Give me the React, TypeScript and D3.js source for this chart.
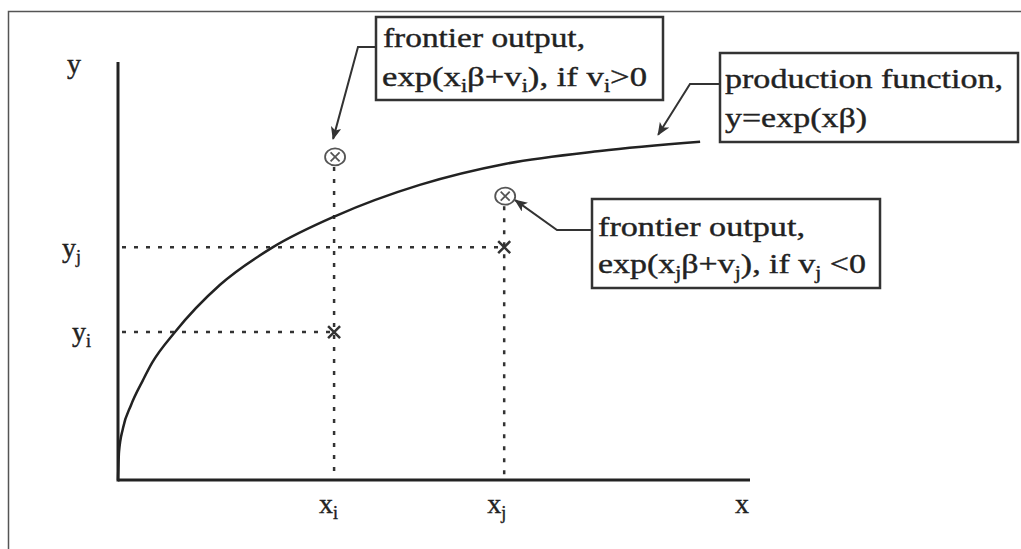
import React from 'react';
import * as d3 from 'd3';

const W = 1021;
const H = 549;

// production function y = exp(xβ) (axis units 0..10)
const curveX = [0, 0.016, 0.079, 0.206, 0.397, 0.54, 0.905, 1.62, 2.46, 3.46, 4.79, 6.14, 7.65, 9.24];
const curveY = [0, 0.67, 1.24, 1.79, 2.39, 2.8, 3.54, 4.67, 5.57, 6.32, 7.06, 7.56, 7.87, 8.09];

// two firms i and j
const firmNames = ['i', 'j'];
const firmX = [3.43, 6.13];
const observedY = [3.54, 5.57]; // observed output (x marks)
const frontierY = [7.73, 6.79]; // frontier output (circled x)

// annotation texts, _{..} marks a subscript
const noteI = ['frontier output,', 'exp(x_{i}β+v_{i}), if v_{i}>0'];
const noteF = ['production function,', 'y=exp(xβ)'];
const noteJ = ['frontier output,', 'exp(x_{j}β+v_{j}), if v_{j} <0'];

const FONT = '"Liberation Serif", "Times New Roman", serif';
const INK = '#222';

// split "a_{b}c" into tspans with subscripts
function rich(s: string) {
  const parts = s.split(/(_\{[^}]*\})/).filter((p) => p.length);
  let down = false;
  return parts.map((p, k) => {
    if (p.startsWith('_{')) {
      down = true;
      return (
        <tspan key={k} fontSize={18} dy={6}>
          {p.slice(2, -1)}
        </tspan>
      );
    }
    const dy = down ? -6 : undefined;
    down = false;
    return (
      <tspan key={k} dy={dy}>
        {p}
      </tspan>
    );
  });
}

export default function App() {
  const x = d3.scaleLinear().domain([0, 10]).range([118, 748]);
  const y = d3.scaleLinear().domain([0, 10]).range([480, 62]);

  const pts: [number, number][] = curveX.map((v, i) => [v, curveY[i]]);
  const line = d3
    .line<[number, number]>()
    .x((d) => x(d[0]))
    .y((d) => y(d[1]))
    .curve(d3.curveMonotoneX);

  const [x0, x1] = x.range();
  const [y0, y1] = y.range();

  const fi = { cx: x(firmX[0]), cy: y(frontierY[0]) };
  const fj = { cx: x(firmX[1]), cy: y(frontierY[1]) };
  const last = pts[pts.length - 1];
  const curveEnd = { px: x(last[0]), py: y(last[1]) };

  // annotation connectors: box edge -> elbow -> arrow tip
  const connectors = [
    `M376,47 L358,47 L${fi.cx - 1},${fi.cy - 18}`,
    `M720,84 L690,84 L${curveEnd.px - 42},${curveEnd.py - 7}`,
    `M592,230 L557,230 L${fj.cx + 11},${fj.cy + 4}`,
  ];

  const cross = (cx: number, cy: number, s: number) =>
    `M${cx - s},${cy - s} L${cx + s},${cy + s} M${cx + s},${cy - s} L${cx - s},${cy + s}`;

  return (
    <svg
      width={W}
      height={H}
      style={{ position: 'fixed', left: 0, top: 0, background: '#fff' }}
      fontFamily={FONT}
    >
      <defs>
        <marker
          id="arr"
          viewBox="0 0 12 10"
          refX={11}
          refY={5}
          markerWidth={13}
          markerHeight={11}
          markerUnits="userSpaceOnUse"
          orient="auto"
        >
          <path d="M0,0 L12,5 L0,10 L3,5 z" fill="#333" />
        </marker>
      </defs>

      {/* frame */}
      <path d={`M8.5,${H} L8.5,11.5 L${W},11.5`} fill="none" stroke="#555" strokeWidth={1.5} />

      {/* guide lines */}
      {firmNames.map((n, i) => (
        <g key={n} stroke="#333" strokeWidth={2.5} strokeDasharray="4 8">
          <line x1={x(0) + 4} x2={x(firmX[i])} y1={y(observedY[i])} y2={y(observedY[i])} />
          <line x1={x(firmX[i])} x2={x(firmX[i])} y1={y(frontierY[i]) + 10} y2={y(0)} />
        </g>
      ))}

      {/* axes */}
      <line x1={x0} x2={x0} y1={y1} y2={y0 + 1.5} stroke={INK} strokeWidth={3} />
      <line x1={x0} x2={x1 + 2} y1={y0} y2={y0} stroke={INK} strokeWidth={3} />

      {/* production function */}
      <path d={line(pts) ?? ''} fill="none" stroke={INK} strokeWidth={2.5} />

      {/* observed output */}
      {firmNames.map((n, i) => (
        <path key={'o' + n} d={cross(x(firmX[i]), y(observedY[i]), 6)} stroke="#333" strokeWidth={2.5} />
      ))}

      {/* frontier output */}
      {firmNames.map((n, i) => {
        const cx = x(firmX[i]) + 1;
        const cy = y(frontierY[i]);
        return (
          <g key={'f' + n} stroke="#555" fill="none" strokeWidth={1.8}>
            <ellipse cx={cx} cy={cy} rx={10} ry={8.5} />
            <path d={cross(cx, cy, 4.5)} />
          </g>
        );
      })}

      {/* connectors */}
      {connectors.map((d, i) => (
        <path key={i} d={d} fill="none" stroke="#333" strokeWidth={2} markerEnd="url(#arr)" />
      ))}

      {/* boxes */}
      <g fill="#fff" stroke="#333" strokeWidth={2.5}>
        <rect x={376} y={17} width={287} height={83} />
        <rect x={720} y={53} width={298} height={89} />
        <rect x={592} y={199} width={288} height={89} />
      </g>

      <g fill={INK} stroke={INK} strokeWidth={0.4} fontSize={28}>
        <text x={383} y={47} textLength={202} lengthAdjust="spacingAndGlyphs">{rich(noteI[0])}</text>
        <text x={382} y={86} textLength={265} lengthAdjust="spacingAndGlyphs">{rich(noteI[1])}</text>

        <text x={725} y={88} textLength={278} lengthAdjust="spacingAndGlyphs">{rich(noteF[0])}</text>
        <text x={725} y={127} textLength={142} lengthAdjust="spacingAndGlyphs">{rich(noteF[1])}</text>

        <text x={598} y={236} textLength={207} lengthAdjust="spacingAndGlyphs">{rich(noteJ[0])}</text>
        <text x={598} y={273} textLength={268} lengthAdjust="spacingAndGlyphs">{rich(noteJ[1])}</text>

        {/* axis labels */}
        <text x={67} y={73}>y</text>
        <text x={735} y={513}>x</text>
        {firmNames.map((n, i) => (
          <g key={'l' + n}>
            <text x={i === 0 ? 72 : 62} y={y(observedY[i]) + (i === 0 ? 9 : 10)}>
              {rich(`y_{${n}}`)}
            </text>
            <text x={x(firmX[i]) - (i === 0 ? 15 : 17)} y={513}>
              {rich(`x_{${n}}`)}
            </text>
          </g>
        ))}
      </g>
    </svg>
  );
}
